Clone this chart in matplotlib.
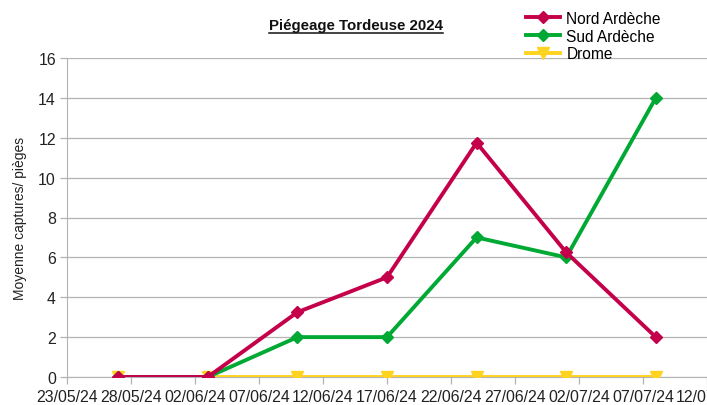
import matplotlib
matplotlib.use("Agg")
import matplotlib.pyplot as plt
from matplotlib.lines import Line2D
import pandas as pd

plt.rcParams['font.family'] = ['Liberation Sans', 'DejaVu Sans']

# data
dates = ['2024-05-27', '2024-06-03', '2024-06-10', '2024-06-17',
         '2024-06-24', '2024-07-01', '2024-07-08']
nord_ardeche = [0, 0, 3.25, 5, 11.75, 6.25, 2]
sud_ardeche = [0, 0, 2, 2, 7, 6, 14]
drome = [0, 0, 0, 0, 0, 0, 0]

x = pd.to_datetime(dates)

fig = plt.figure(figsize=(7.07, 4.06), dpi=100)
ax = fig.add_axes([67 / 707, 1 - 378 / 406, 640 / 707, 319 / 406])

ax.plot(x, drome, color='#ffd320', lw=2.8, marker='v', ms=9, label='Drome', zorder=3)
ax.plot(x, sud_ardeche, color='#00a933', lw=2.8, marker='D', ms=6, label='Sud Ardèche', zorder=4)
ax.plot(x, nord_ardeche, color='#c5004a', lw=2.8, marker='D', ms=6, label='Nord Ardèche', zorder=5)

ax.set_xlim(pd.Timestamp('2024-05-23'), pd.Timestamp('2024-07-12'))
ax.set_ylim(0, 16)
ax.set_yticks(range(0, 17, 2))
ticks = pd.date_range('2024-05-23', '2024-07-12', freq='5D')
ax.set_xticks(ticks)
ax.set_xticklabels([t.strftime('%d/%m/%y') for t in ticks])

ax.grid(axis='y', color='#b3b3b3', lw=0.9)
ax.set_axisbelow(True)
for s in ['top', 'right']:
    ax.spines[s].set_visible(False)
ax.spines['left'].set_color('#b3b3b3')
ax.spines['bottom'].set_color('#b3b3b3')
ax.tick_params(axis='both', colors='#b3b3b3', labelcolor='#222222', labelsize=11.4,
               length=5, width=0.9)
ax.tick_params(axis='x', pad=4)
ax.tick_params(axis='y', pad=3)
ax.set_ylabel('Moyenne captures/ pièges', fontsize=10, color='#222222', labelpad=8)

title = fig.text(0.503, 1 - 26 / 406, 'Piégeage Tordeuse 2024', ha='center', va='center',
                 fontsize=10.8, fontweight='bold', color='#111111')
fig.canvas.draw()
bb = title.get_window_extent().transformed(fig.transFigure.inverted())
fig.add_artist(Line2D([bb.x0, bb.x1], [bb.y0 - 0.002, bb.y0 - 0.002],
                      transform=fig.transFigure, color='#111111', lw=1.1))

handles, labels = ax.get_legend_handles_labels()
order = [2, 1, 0]
fig.legend([handles[i] for i in order], [labels[i] for i in order],
           loc='upper left', bbox_to_anchor=(515 / 707, 1 - 1 / 406),
           frameon=False, fontsize=11.2, handlelength=2.2, handletextpad=0.4,
           labelspacing=0.18, borderpad=0.2)

fig.savefig('out.png', dpi=100)
